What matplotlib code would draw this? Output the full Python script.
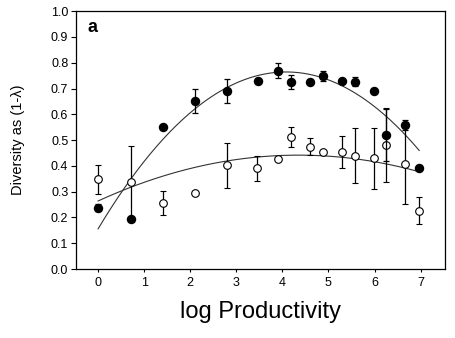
import numpy as np
import matplotlib
matplotlib.use('Agg')
import matplotlib.pyplot as plt

plt.rcParams['font.family'] = ['Liberation Sans', 'DejaVu Sans']

# filled circles
x_filled = [0.0, 0.71, 1.40, 2.10, 2.80, 3.48, 3.90, 4.19, 4.60, 4.88, 5.29, 5.57, 5.98, 6.26, 6.67, 6.97]
y_filled = [0.238, 0.193, 0.550, 0.652, 0.690, 0.731, 0.769, 0.725, 0.725, 0.748, 0.731, 0.727, 0.690, 0.519, 0.558, 0.393]
e_filled = [0.013, 0, 0, 0.046, 0.046, 0, 0.029, 0.027, 0, 0.020, 0, 0.018, 0, 0.10, 0.019, 0]

# open circles
x_open = [0.0, 0.71, 1.41, 2.10, 2.80, 3.46, 3.90, 4.19, 4.60, 4.88, 5.29, 5.57, 5.98, 6.26, 6.67, 6.97]
y_open = [0.348, 0.338, 0.255, 0.293, 0.402, 0.390, 0.428, 0.512, 0.474, 0.453, 0.453, 0.440, 0.430, 0.481, 0.408, 0.226]
e_open = [0.056, 0.140, 0.047, 0, 0.087, 0.050, 0, 0.038, 0.033, 0, 0.062, 0.105, 0.118, 0.145, 0.156, 0.052]

# quadratic fits (c0, c1, c2)
fit_filled = [0.156, 0.298, -0.0365]
fit_open = [0.264, 0.0817, -0.00939]

fig = plt.figure(figsize=(4.55, 3.38), dpi=100)
ax = fig.add_axes([0.167, 0.204, 0.811, 0.763])

xx = np.linspace(0, 6.97, 200)
ax.plot(xx, fit_filled[0] + fit_filled[1]*xx + fit_filled[2]*xx**2, color='#333333', lw=0.8, zorder=1)
ax.plot(xx, fit_open[0] + fit_open[1]*xx + fit_open[2]*xx**2, color='#333333', lw=0.8, zorder=1)

ax.errorbar(x_open, y_open, yerr=e_open, fmt='o', ms=5.5, mfc='white', mec='black', mew=0.8,
            ecolor='black', elinewidth=0.9, capsize=2.2, capthick=0.9, zorder=3)
ax.errorbar(x_filled, y_filled, yerr=e_filled, fmt='o', ms=5.8, mfc='black', mec='black',
            ecolor='black', elinewidth=0.9, capsize=2.2, capthick=0.9, zorder=4)

ax.set_xlim(-0.48, 7.53)
ax.set_ylim(0, 1.0)
ax.set_xticks(range(8))
ax.set_yticks(np.arange(0, 1.01, 0.1))
ax.set_yticklabels(['%.1f' % v for v in np.arange(0, 1.01, 0.1)])
ax.tick_params(direction='out', width=0.8, labelsize=9)
ax.tick_params(axis='x', length=2.5, pad=3)
ax.tick_params(axis='y', length=3.5, pad=2)
for s in ax.spines.values():
    s.set_linewidth(0.9)

ax.set_xlabel('log Productivity', fontsize=17, labelpad=9)
ax.set_ylabel('Diversity as (1-λ)', fontsize=10.5, labelpad=19)
ax.text(0.03, 0.97, 'a', transform=ax.transAxes, fontsize=13, fontweight='bold', va='top', ha='left')

fig.savefig('out.png', dpi=100)
